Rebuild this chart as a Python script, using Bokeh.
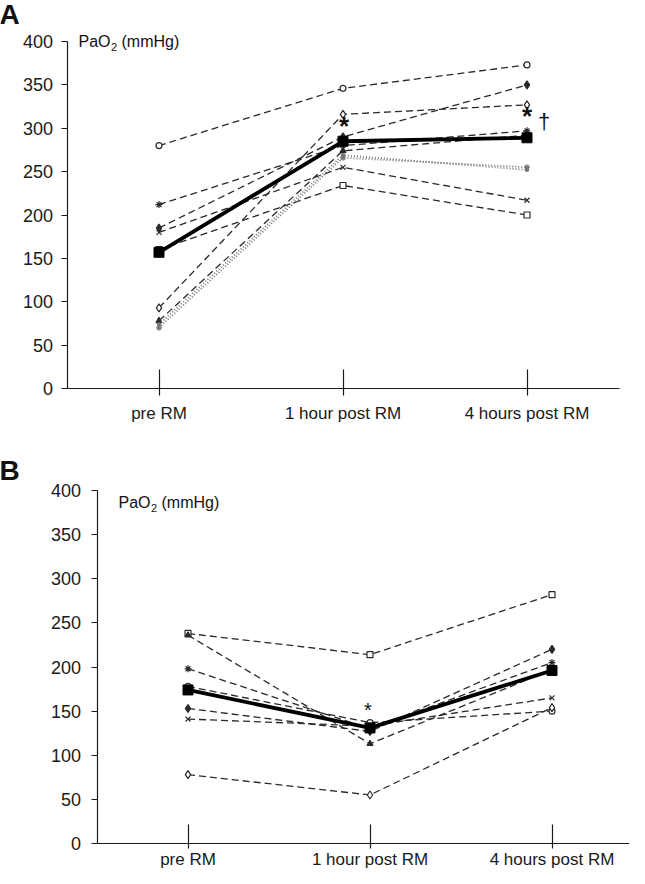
from bokeh.plotting import figure
from bokeh.layouts import column
from bokeh.models import Range1d, FixedTicker, Label
from bokeh.embed import file_html
from bokeh.resources import INLINE

# ---------------- data ----------------
timepoints = ["pre RM", "1 hour post RM", "4 hours post RM"]
y_ticks = [0, 50, 100, 150, 200, 250, 300, 350, 400]

# Panel A: PaO2 (mmHg) per animal
a_circle = [280, 346, 373]
a_diamond_filled = [185, 290, 350]
a_diamond_open = [93, 316, 327]
a_asterisk = [212, 280, 297]
a_cross = [180, 255, 217]
a_square_open = [160, 234, 200]
a_small_filled = [78, 274, 292]
a_dotted_star = [70, 266, 255]
a_dotted_dot = [74, 269, 252]
a_mean = [157, 285, 289]

# Panel B: PaO2 (mmHg) per animal
b_square_open = [238, 214, 282]
b_small_filled = [236, 113, 197]
b_asterisk = [198, 130, 205]
b_circle = [178, 137, 150]
b_diamond_filled = [153, 127, 220]
b_cross = [141, 133, 165]
b_diamond_open = [78, 55, 154]
b_mean = [174, 131, 196]

FONT = "Liberation Sans"
DARK = "#2a2a2a"
xs = [0.5, 1.5, 2.5]
W = 629


class Panel:
    """Figure whose frame fills the whole canvas; axes drawn at data 0."""

    def __init__(self, top, height, axis_x, cat_w, y400, y0, tick_out, standoff, y_standoff):
        self.top, self.height = top, height
        self.axis_x, self.cat_w = axis_x, cat_w
        self.y400, self.y0 = y400, y0
        self.py_per = (y0 - y400) / 400.0
        x0, x1 = self.dx(8), self.dx(8 + W)
        yb, yt = self.dy(top + height), self.dy(top)
        p = figure(width=W, height=height, x_range=Range1d(x0, x1), y_range=Range1d(yb, yt),
                   output_backend="svg", toolbar_location=None, min_border=0,
                   min_border_left=0, min_border_right=0, min_border_top=0, min_border_bottom=0)
        p.outline_line_color = None
        p.grid.visible = False
        p.background_fill_color = "white"
        p.border_fill_color = "white"

        p.xaxis.fixed_location = 0
        p.xaxis.bounds = (0, 3)
        p.xaxis.ticker = FixedTicker(ticks=xs)
        p.xaxis.major_label_overrides = {x: t for x, t in zip(xs, timepoints)}
        p.xaxis.minor_tick_line_color = None
        p.xaxis.major_tick_in = 19
        p.xaxis.major_tick_out = tick_out
        p.xaxis.major_label_standoff = standoff
        p.xaxis.major_label_text_font_size = "17px"

        p.yaxis.fixed_location = 0
        p.yaxis.bounds = (0, 400)
        p.yaxis.ticker = FixedTicker(ticks=y_ticks)
        p.yaxis.minor_tick_line_color = None
        p.yaxis.major_tick_in = 0
        p.yaxis.major_tick_out = 6
        p.yaxis.major_label_standoff = y_standoff
        p.yaxis.major_label_text_font_size = "18px"

        for ax in (p.xaxis, p.yaxis):
            ax.major_label_text_font = FONT
            ax.major_label_text_color = "#1a1a1a"
            ax.axis_line_color = "#1a1a1a"
            ax.major_tick_line_color = "#1a1a1a"
            ax.axis_line_width = 1.2
            ax.major_tick_line_width = 1.2
        self.p = p

    def dx(self, px):
        return (px - self.axis_x) / self.cat_w

    def dy(self, py):
        return (self.y0 - py) / self.py_per

    def series(self, vals, marker, fill, dash="7 4", color=DARK, size=6, width=1.3):
        self.p.line(xs, vals, line_color=color, line_width=width, line_dash=dash)
        self.p.scatter(xs, vals, marker=marker, size=size, fill_color=fill,
                       line_color=color, line_width=1.2)

    def mean(self, vals):
        self.p.line(xs, vals, line_color="black", line_width=3.8)
        self.p.scatter(xs, vals, marker="square", size=10, fill_color="black", line_color="black")

    def text(self, px, py, text, size, bold=False, align="left"):
        self.p.add_layout(Label(x=self.dx(px), y=self.dy(py), text=text, text_font=FONT,
                                text_font_size=size, text_font_style="bold" if bold else "normal",
                                text_baseline="middle", text_align=align, text_color="#111111"))

    def pao2(self, px, py):
        self.text(px, py, "PaO", "16px")
        self.text(px + 32.5, py + 5, "2", "11px")
        self.text(px + 43, py, "(mmHg)", "16px")


# ---------------- panel A ----------------
A = Panel(top=8, height=442, axis_x=74.5, cat_w=184, y400=49, y0=396,
          tick_out=7, standoff=8, y_standoff=8)
A.series(a_circle, "circle", "white")
A.series(a_diamond_filled, "diamond", DARK, size=8)
A.series(a_diamond_open, "diamond", "white", size=8)
A.series(a_asterisk, "asterisk", DARK, size=7)
A.series(a_cross, "x", DARK, size=7)
A.series(a_square_open, "square", "white")
A.series(a_small_filled, "triangle", DARK, size=6)
A.series(a_dotted_star, "asterisk", "#777777", dash="1 2", color="#777777", size=6, width=1.8)
A.series(a_dotted_dot, "circle", "#777777", dash="1 2", color="#777777", size=3, width=1.8)
A.mean(a_mean)
A.text(7, 22, "A", "28px", bold=True)
A.pao2(86, 49)
A.text(A.axis_x + 1.5 * A.cat_w + 1, 133, "*", "26px", bold=True, align="center")
A.text(A.axis_x + 2.5 * A.cat_w, 123, "*", "26px", bold=True, align="center")
A.text(A.axis_x + 2.5 * A.cat_w + 17, 129, "\u2020", "22px", align="center")

# ---------------- panel B ----------------
B = Panel(top=450, height=426, axis_x=104.5, cat_w=182, y400=498, y0=851,
          tick_out=5, standoff=1, y_standoff=10)
B.series(b_square_open, "square", "white")
B.series(b_small_filled, "triangle", DARK, size=6)
B.series(b_asterisk, "asterisk", DARK, size=7)
B.series(b_circle, "circle", "white")
B.series(b_diamond_filled, "diamond", DARK, size=8)
B.series(b_cross, "x", DARK, size=7)
B.series(b_diamond_open, "diamond", "white", size=8)
B.mean(b_mean)
B.text(7, 478, "B", "28px", bold=True)
B.pao2(126, 510)
B.text(B.axis_x + 1.5 * B.cat_w - 2, 717, "*", "20px", align="center")

layout = column(A.p, B.p)
open("out.html", "w").write(file_html(layout, INLINE))
